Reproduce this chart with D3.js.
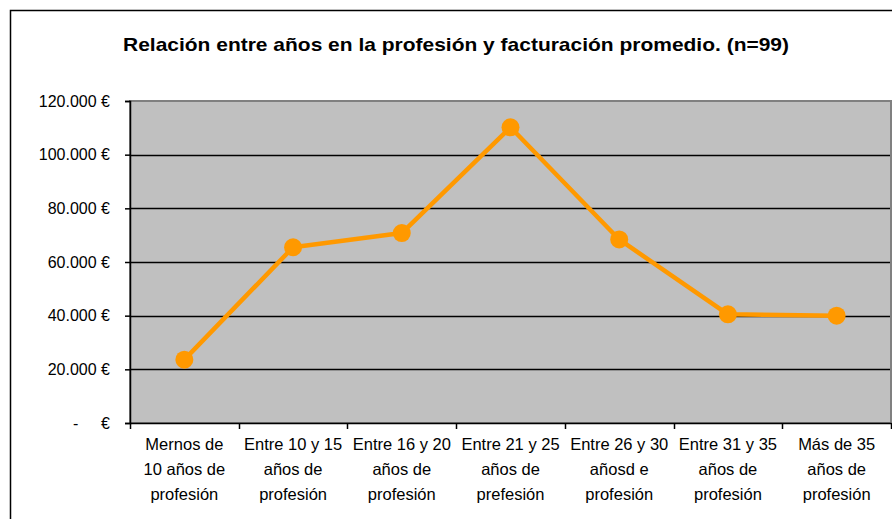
<!DOCTYPE html>
<html>
<head>
<meta charset="utf-8">
<script src="https://cdn.jsdelivr.net/npm/d3@7"></script>
<style>
  body { margin: 0; background: #fff; }
  text { font-family: Arial, "Liberation Sans", sans-serif; fill: #000; }
</style>
</head>
<body>
<div id="chart"></div>
<script>
// data
const categories = [
  ["Mernos de", "10 años de", "profesión"],
  ["Entre 10 y 15", "años de", "profesión"],
  ["Entre 16 y 20", "años de", "profesión"],
  ["Entre 21 y 25", "años de", "prefesión"],
  ["Entre 26 y 30", "añosd e", "profesión"],
  ["Entre 31 y 35", "años de", "profesión"],
  ["Más de 35", "años de", "profesión"]
];
const facturacion = [23600, 65500, 70800, 110200, 68400, 40500, 40000];
const yTicks = [0, 20000, 40000, 60000, 80000, 100000, 120000];
const title = "Relación entre años en la profesión y facturación promedio. (n=99)";

const width = 892, height = 519;
const plot = { left: 130, top: 101, right: 891, bottom: 423 };

const svg = d3.select("#chart").append("svg")
  .attr("width", width)
  .attr("height", height);

// outer chart frame (runs off the right/bottom edge like the screenshot)
svg.append("rect")
  .attr("x", 10.5).attr("y", 10.5)
  .attr("width", width + 20).attr("height", height + 20)
  .attr("fill", "#fff")
  .attr("stroke", "#000")
  .attr("stroke-width", 1.5);

svg.append("text")
  .attr("x", 456).attr("y", 51)
  .attr("text-anchor", "middle")
  .attr("textLength", 666)
  .attr("lengthAdjust", "spacingAndGlyphs")
  .style("font-size", "19px")
  .style("font-weight", "bold")
  .text(title);

const x = d3.scaleBand()
  .domain(d3.range(categories.length))
  .range([plot.left, plot.right]);

const y = d3.scaleLinear()
  .domain([0, 120000])
  .range([plot.bottom, plot.top]);

// plot area
svg.append("rect")
  .attr("x", plot.left).attr("y", plot.top)
  .attr("width", plot.right - plot.left).attr("height", plot.bottom - plot.top)
  .attr("fill", "#C0C0C0")
  .attr("stroke", "#808080")
  .attr("stroke-width", 2);

// gridlines
svg.append("g")
  .selectAll("line")
  .data(yTicks.filter(d => d > 0 && d < 120000))
  .join("line")
  .attr("x1", plot.left).attr("x2", plot.right - 1)
  .attr("y1", d => Math.round(y(d)) + 0.5)
  .attr("y2", d => Math.round(y(d)) + 0.5)
  .attr("stroke", "#000")
  .attr("stroke-width", 1.5);

// y axis
const fmt = d3.formatLocale({ decimal: ",", thousands: ".", grouping: [3], currency: ["", "€"] }).format(",.0f");
const yAxis = svg.append("g")
  .attr("transform", `translate(${plot.left},0)`)
  .call(d3.axisLeft(y).tickValues(yTicks).tickSize(5).tickPadding(0).tickFormat(""));
yAxis.select(".domain").attr("stroke-width", 1.5);
yAxis.selectAll(".tick line").attr("stroke-width", 1.5);

const yLab = svg.append("g").selectAll("g")
  .data(yTicks)
  .join("g")
  .attr("transform", d => `translate(110,${y(d) + 5.5})`);
yLab.append("text")
  .attr("text-anchor", "end")
  .style("font-size", "16px")
  .text(d => d === 0 ? "€" : fmt(d) + " €");
yLab.filter(d => d === 0).append("text")
  .attr("x", -37)
  .style("font-size", "16px")
  .text("-");

// x axis
const xAxis = svg.append("g")
  .attr("transform", `translate(0,${plot.bottom})`)
  .call(d3.axisBottom(x).tickSize(0).tickFormat(""));
xAxis.select(".domain").attr("stroke-width", 1.5);
xAxis.selectAll(".tick").remove();

svg.append("g").selectAll("line")
  .data(d3.range(categories.length + 1))
  .join("line")
  .attr("x1", i => Math.round(plot.left + i * x.bandwidth()) + 0.5)
  .attr("x2", i => Math.round(plot.left + i * x.bandwidth()) + 0.5)
  .attr("y1", plot.bottom).attr("y2", plot.bottom + 6)
  .attr("stroke", "#000")
  .attr("stroke-width", 1.5);

const xLab = svg.append("g").selectAll("text")
  .data(categories)
  .join("text")
  .attr("text-anchor", "middle")
  .style("font-size", "16.5px")
  .attr("transform", (d, i) => `translate(${x(i) + x.bandwidth() / 2},0)`);
xLab.selectAll("tspan")
  .data(d => d)
  .join("tspan")
  .attr("x", 0)
  .attr("y", (d, j) => 450 + j * 25)
  .text(d => d);

// series
const line = d3.line()
  .x((d, i) => x(i) + x.bandwidth() / 2)
  .y(d => y(d));

svg.append("path")
  .datum(facturacion)
  .attr("d", line)
  .attr("fill", "none")
  .attr("stroke", "#FF9900")
  .attr("stroke-width", 4.5)
  .attr("stroke-linejoin", "round");

svg.append("g").selectAll("circle")
  .data(facturacion)
  .join("circle")
  .attr("cx", (d, i) => x(i) + x.bandwidth() / 2)
  .attr("cy", d => y(d))
  .attr("r", 9)
  .attr("fill", "#FF9900");
</script>
</body>
</html>
